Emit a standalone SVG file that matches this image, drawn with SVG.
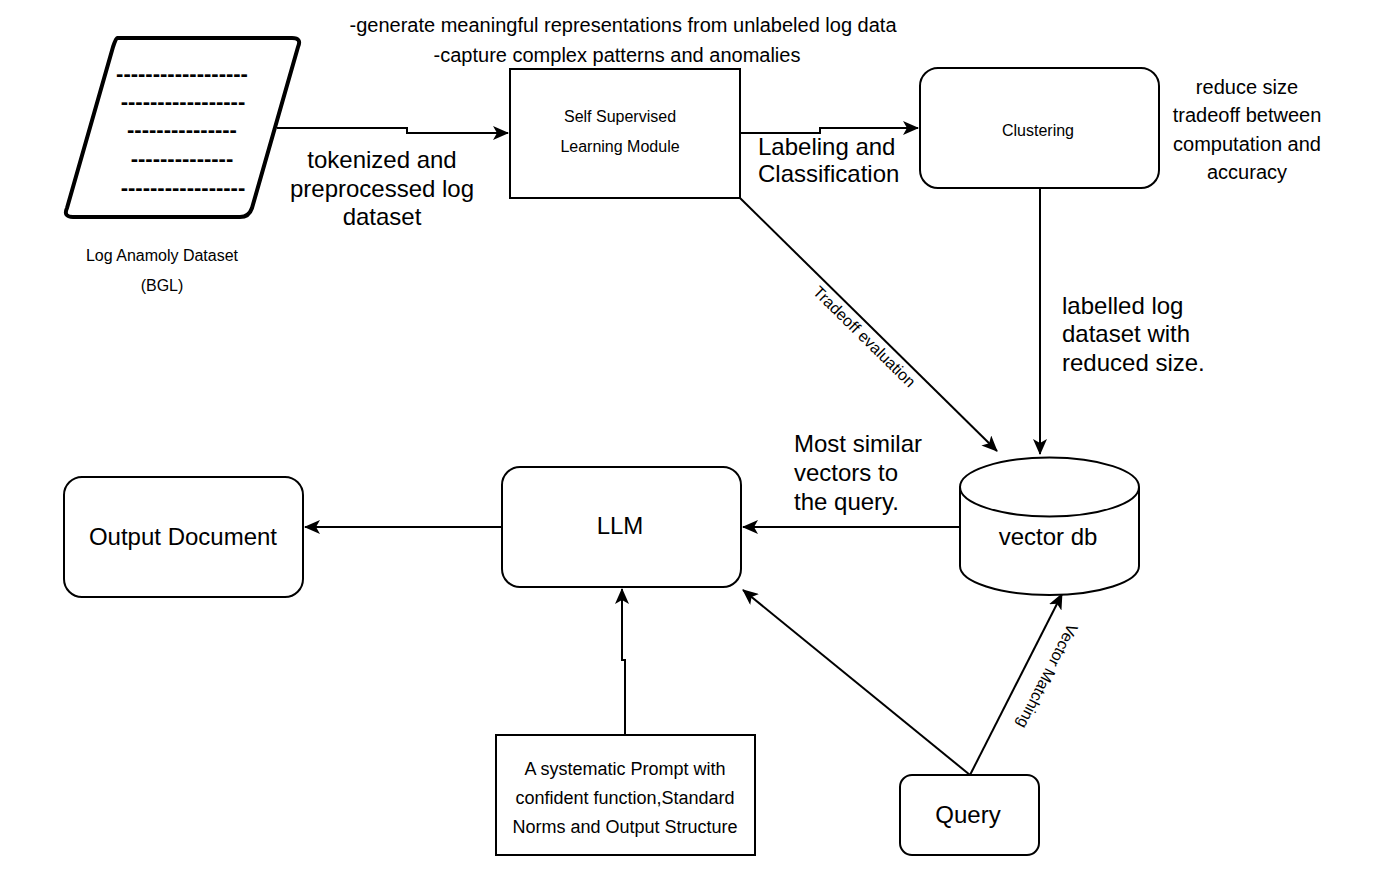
<svg xmlns="http://www.w3.org/2000/svg" width="1376" height="886" viewBox="0 0 1376 886">
<style>
text{font-family:"Liberation Sans",Arial,sans-serif;fill:#000}
.s16{font-size:16px}
.s18{font-size:18px}
.s20{font-size:20px}
.s24{font-size:24px}
.c{text-anchor:middle}
.box{fill:#fff;stroke:#000;stroke-width:2}
.ln{fill:none;stroke:#000;stroke-width:2}
.dash{font-size:22px;font-weight:bold;text-anchor:middle}
</style>
<defs>
<marker id="ah" viewBox="0 0 16 14" refX="15" refY="7" markerWidth="16" markerHeight="14" markerUnits="userSpaceOnUse" orient="auto">
<path d="M0,0 L16,7 L0,14 L4,7 Z" fill="#000"/>
</marker>
</defs>
<rect width="1376" height="886" fill="#fff"/>

<g id="connectors">
<path class="ln" d="M277,128 H407 V133 H508" marker-end="url(#ah)"/>
<path class="ln" d="M740,133 H820 V128 H918" marker-end="url(#ah)"/>
<path class="ln" d="M1040,188 V454" marker-end="url(#ah)"/>
<path class="ln" d="M740,198 L997,451" marker-end="url(#ah)"/>
<path class="ln" d="M960,527 H743" marker-end="url(#ah)"/>
<path class="ln" d="M502,527 H305" marker-end="url(#ah)"/>
<path class="ln" d="M625,735 V660 H622 V589" marker-end="url(#ah)"/>
<path class="ln" d="M970,775 L743,590" marker-end="url(#ah)"/>
<path class="ln" d="M970,775 L1062,594" marker-end="url(#ah)"/>
<text class="s24 c" x="382" y="168">tokenized and</text>
<text class="s24 c" x="382" y="197">preprocessed log</text>
<text class="s24 c" x="382" y="225">dataset</text>
<text class="s24" x="758" y="155">Labeling and</text>
<text class="s24" x="758" y="182">Classification</text>
<text class="s24" x="1062" y="314">labelled log</text>
<text class="s24" x="1062" y="342">dataset with</text>
<text class="s24" x="1062" y="371">reduced size.</text>
<text class="s24" x="794" y="452">Most similar</text>
<text class="s24" x="794" y="481">vectors to</text>
<text class="s24" x="794" y="510">the query.</text>
<text class="s16 c" transform="translate(864,337) rotate(44.5)" y="5">Tradeoff evaluation</text>
<text class="s16 c" transform="translate(1047,676) rotate(117)" y="5">Vector Matching</text>
</g>

<g id="log-dataset">
<path d="M117,38 H292 Q302,38 298,47 L252,208 Q249,217 240,217 H73 Q63,217 67,208 L113,47 Q116,38 117,38 Z" fill="#fff" stroke="#000" stroke-width="4" stroke-linejoin="round"/>
<text class="dash" x="182" y="81">------------------</text>
<text class="dash" x="183" y="109">-----------------</text>
<text class="dash" x="182" y="137">---------------</text>
<text class="dash" x="182" y="166">--------------</text>
<text class="dash" x="183" y="195">-----------------</text>
<text class="s16 c" x="162" y="261">Log Anamoly Dataset</text>
<text class="s16 c" x="162" y="291">(BGL)</text>
</g>

<g id="top-notes">
<text class="s20 c" x="623" y="32">-generate meaningful representations from unlabeled log data</text>
<text class="s20 c" x="617" y="62">-capture complex patterns and anomalies</text>
</g>

<g id="ssl">
<rect class="box" x="510" y="69" width="230" height="129"/>
<text class="s16 c" x="620" y="122">Self Supervised</text>
<text class="s16 c" x="620" y="152">Learning Module</text>
</g>

<g id="clustering">
<rect class="box" x="920" y="68" width="239" height="120" rx="18"/>
<text class="s16 c" x="1038" y="136">Clustering</text>
</g>

<g id="cluster-note">
<text class="s20 c" x="1247" y="94">reduce size</text>
<text class="s20 c" x="1247" y="122">tradeoff between</text>
<text class="s20 c" x="1247" y="151">computation and</text>
<text class="s20 c" x="1247" y="179">accuracy</text>
</g>

<g id="vector-db">
<path class="box" d="M960,487 A89.5,29.5 0 0 1 1139,487 V566 A89.5,29 0 0 1 960,566 Z"/>
<path class="ln" d="M960,487 A89.5,29.5 0 0 0 1139,487"/>
<text class="s24 c" x="1048" y="545">vector db</text>
</g>

<g id="llm">
<rect class="box" x="502" y="467" width="239" height="120" rx="18"/>
<text class="s24 c" x="620" y="534">LLM</text>
</g>

<g id="output-document">
<rect class="box" x="64" y="477" width="239" height="120" rx="18"/>
<text class="s24 c" x="183" y="545">Output Document</text>
</g>

<g id="prompt">
<rect class="box" x="496" y="735" width="259" height="120"/>
<text class="s18 c" x="625" y="775">A systematic Prompt with</text>
<text class="s18 c" x="625" y="804">confident function,Standard</text>
<text class="s18 c" x="625" y="833">Norms and Output Structure</text>
</g>

<g id="query">
<rect class="box" x="900" y="775" width="139" height="80" rx="12"/>
<text class="s24 c" x="968" y="823">Query</text>
</g>
</svg>
